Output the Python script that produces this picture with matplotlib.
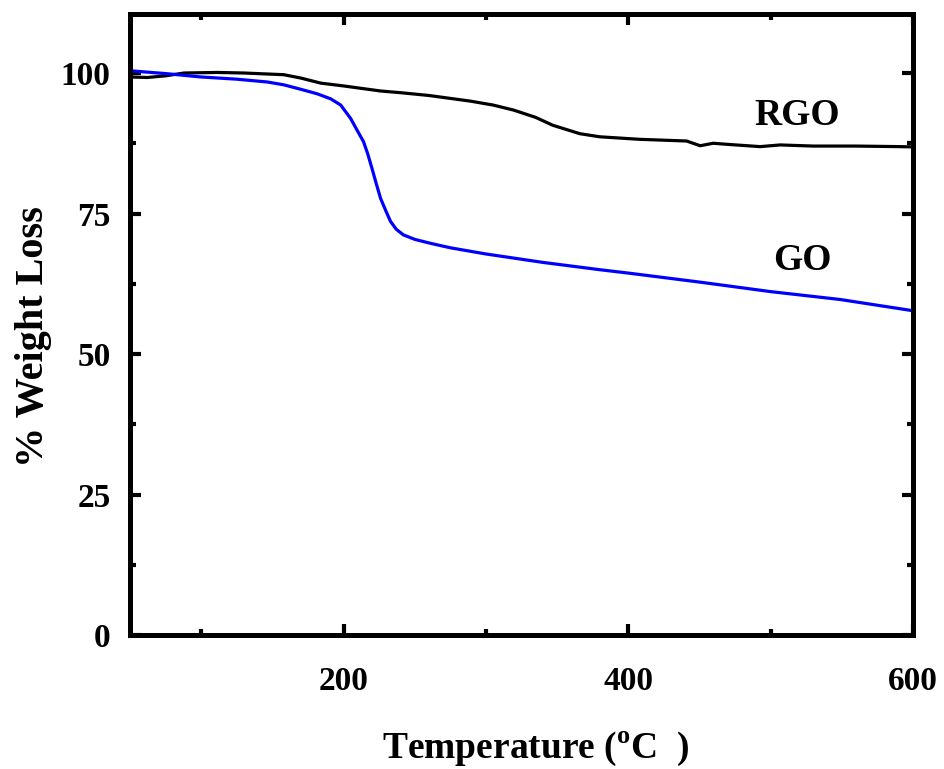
import numpy as np
import matplotlib
matplotlib.use('Agg')
import matplotlib.pyplot as plt
from matplotlib.ticker import MultipleLocator

plt.rcParams['font.family'] = 'Liberation Serif'
plt.rcParams['font.weight'] = 'bold'
plt.rcParams['mathtext.fontset'] = 'custom'
plt.rcParams['mathtext.rm'] = 'Liberation Serif:bold'
plt.rcParams['mathtext.bf'] = 'Liberation Serif:bold'

# TGA curves
rgo_temp = [50, 62, 75, 88, 111, 130, 158, 170, 184, 200, 226, 240, 260, 289, 305, 319.5,
            335, 347, 366, 380, 408, 441, 450.5, 459.6, 470, 492.6, 506.7, 530, 560, 590.9, 600]
rgo_wt = [99.3, 99.2, 99.5, 100.0, 100.1, 100.0, 99.7, 99.1, 98.2, 97.7, 96.8, 96.5, 96.0,
          95.0, 94.3, 93.4, 92.1, 90.7, 89.2, 88.65, 88.2, 87.9, 87.06, 87.5, 87.3, 86.9,
          87.2, 87.0, 87.0, 86.9, 86.85]

go_temp = [50, 75, 99.6, 125, 146.5, 158, 170, 181.5, 191, 198, 205, 210, 214, 217, 220,
           223, 226, 230, 233, 237, 242, 250, 261, 275, 300, 340, 380, 400, 450, 500,
           548.8, 600]
go_wt = [100.4, 99.9, 99.3, 98.9, 98.4, 97.9, 97.1, 96.3, 95.4, 94.3, 91.9, 89.6, 87.8,
         85.6, 83.0, 80.3, 77.7, 75.3, 73.6, 72.2, 71.2, 70.4, 69.7, 68.9, 67.8, 66.3,
         65.0, 64.4, 62.8, 61.1, 59.7, 57.7]

fig = plt.figure(figsize=(9.44, 7.69), dpi=100)
ax = fig.add_axes([130 / 944, 1 - 635 / 769, 783 / 944, 621 / 769])

ax.plot(rgo_temp, rgo_wt, color='black', linewidth=2.3)
ax.plot(go_temp, go_wt, color='#0000ff', linewidth=2.3)

ax.text(519, 92.4, 'RGO', fontsize=27, fontweight='bold', ha='center', va='center')
ax.text(522, 66.7, 'GO', fontsize=27, fontweight='bold', ha='center', va='center')

ax.set_xlim(50, 600)
ax.set_ylim(0, 110.5)
ax.xaxis.set_major_locator(MultipleLocator(200))
ax.xaxis.set_minor_locator(MultipleLocator(100))
ax.yaxis.set_major_locator(MultipleLocator(25))
ax.yaxis.set_minor_locator(MultipleLocator(12.5))

ax.tick_params(which='both', direction='in', top=True, right=True,
               labelsize=24, width=3, pad=14)
ax.tick_params(which='major', length=8)
ax.tick_params(which='minor', length=4)
ax.tick_params(axis='x', pad=22)
for lbl in ax.get_xticklabels() + ax.get_yticklabels():
    lbl.set_fontweight('bold')
for sp in ax.spines.values():
    sp.set_linewidth(3.6)

ax.set_xlabel(r'Temperature ($^{\mathbf{o}}$C  )', fontsize=27, fontweight='bold', labelpad=24)
ax.set_ylabel('% Weight Loss', fontsize=29, fontweight='bold', labelpad=6)
ax.xaxis.label.set_x(0.518)
ax.yaxis.label.set_y(0.48)

fig.savefig('out.png', dpi=100)
